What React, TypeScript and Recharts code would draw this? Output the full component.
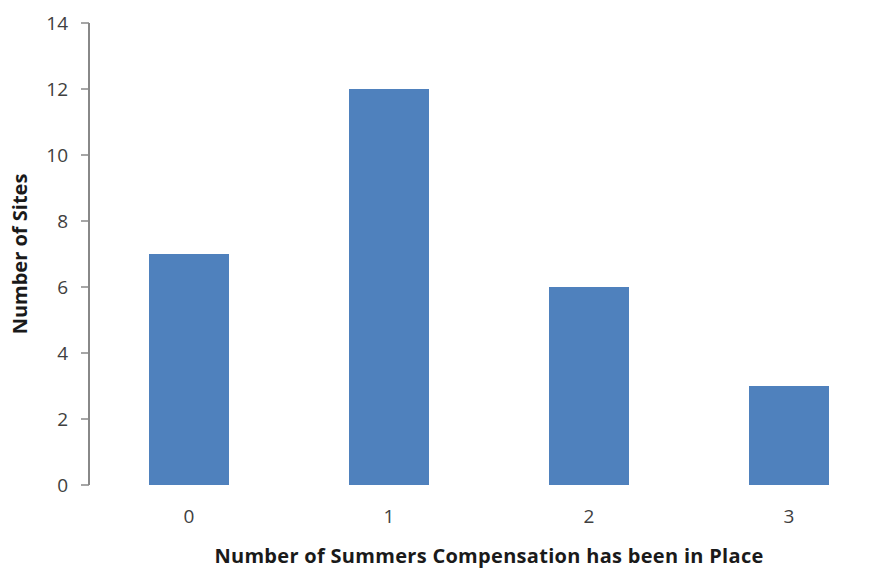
import { Bar, BarChart, Label, XAxis, YAxis } from "recharts";

// sites grouped by how many summers compensation has run
const summers = ["0", "1", "2", "3"];
const siteCounts = [7, 12, 6, 3];
const yTicks = [0, 2, 4, 6, 8, 10, 12, 14];
const categoryEdges = [0, 1, 2, 3, 4];

const rows = summers.map((s, i) => ({ summers: s, sites: siteCounts[i] }));

const FONT = "'Open Sans', sans-serif";
const AXIS_GREY = "#888888";
const TEXT_GREY = "#404040";

export default function App() {
  return (
    <div
      style={{
        position: "absolute",
        left: 0,
        top: 0,
        width: 880,
        height: 568,
        overflow: "hidden",
        background: "#fff",
        fontFamily: FONT,
      }}
    >
      <BarChart
        width={889}
        height={568}
        data={rows}
        margin={{ top: 23, right: 0, bottom: 5, left: 0 }}
        barCategoryGap="30%"
      >
        {/* boundary ticks between categories */}
        <XAxis
          xAxisId="edges"
          type="number"
          domain={[0, 4]}
          ticks={categoryEdges}
          allowDataOverflow
          height={0}
          tickSize={8}
          tickFormatter={() => ""}
          stroke={AXIS_GREY}
          axisLine={{ stroke: AXIS_GREY, strokeWidth: 2 }}
          tickLine={{ stroke: AXIS_GREY, strokeWidth: 1.5 }}
        />
        <XAxis
          dataKey="summers"
          height={78}
          axisLine={false}
          tickLine={false}
          tickMargin={19}
          tick={{ fill: TEXT_GREY, fontSize: 19, fontFamily: FONT }}
        >
          <Label
            value="Number of Summers Compensation has been in Place"
            position="insideBottom"
            offset={0}
            style={{
              fill: "#1a1a1a",
              fontSize: 20,
              fontWeight: 700,
              fontFamily: FONT,
              letterSpacing: 0.3,
            }}
          />
        </XAxis>
        <YAxis
          domain={[0, 14]}
          ticks={yTicks}
          width={89}
          tickSize={8}
          tickMargin={13}
          axisLine={{ stroke: AXIS_GREY, strokeWidth: 2 }}
          tickLine={{ stroke: AXIS_GREY, strokeWidth: 1.5 }}
          tick={{ fill: TEXT_GREY, fontSize: 19, fontFamily: FONT }}
        >
          <Label
            value="Number of Sites"
            angle={-90}
            position="insideLeft"
            offset={20}
            style={{
              textAnchor: "middle",
              fill: "#1a1a1a",
              fontSize: 20,
              fontWeight: 700,
              fontFamily: FONT,
            }}
          />
        </YAxis>
        <Bar dataKey="sites" fill="#4F81BD" isAnimationActive={false} />
      </BarChart>
    </div>
  );
}
